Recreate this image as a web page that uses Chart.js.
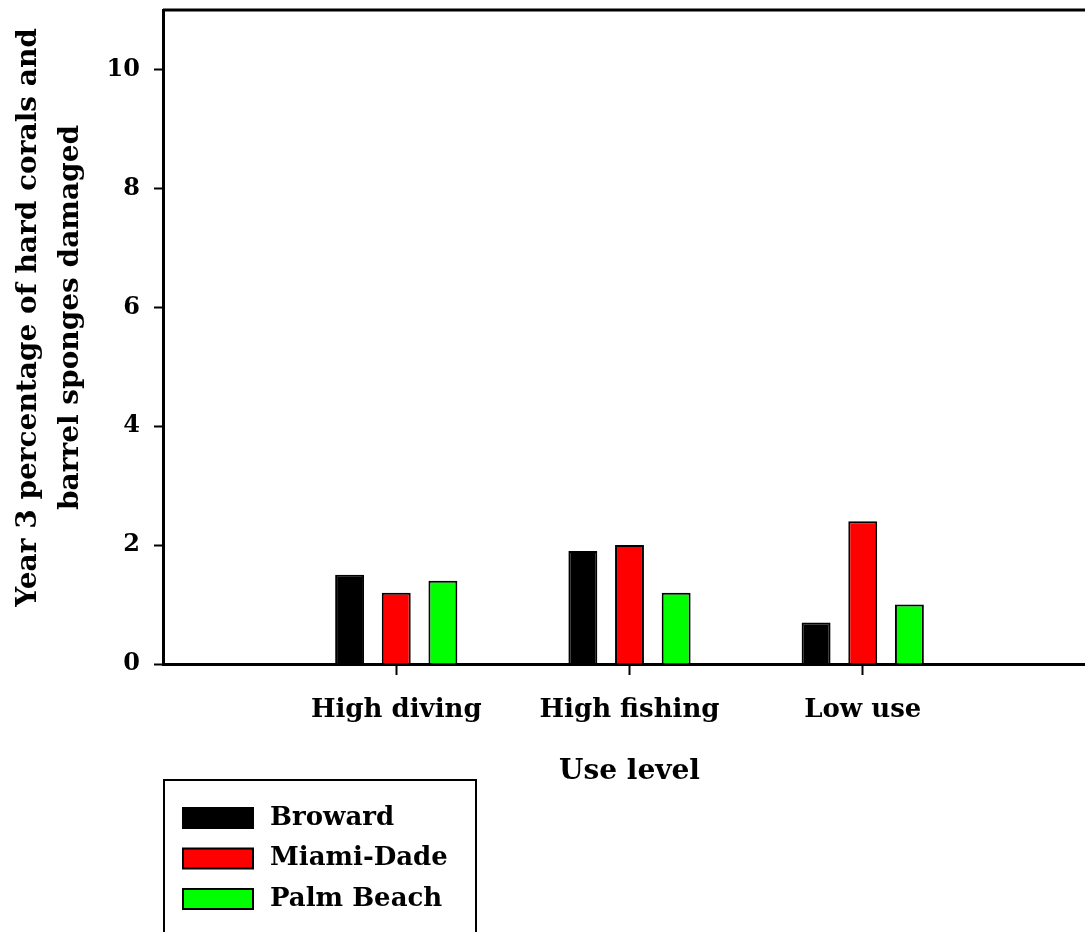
<!DOCTYPE html>
<html>
<head>
<meta charset="utf-8">
<script src="https://cdn.jsdelivr.net/npm/chart.js@4"></script>
<style>
  html, body { margin: 0; padding: 0; background: #fff; overflow: hidden; }
  canvas { display: block; }
</style>
</head>
<body>
<canvas id="chartBar" width="1100" height="932"></canvas>
<script>
const categories = ['High diving', 'High fishing', 'Low use'];
const broward = [1.5, 1.9, 0.7];
const miamiDade = [1.2, 2.0, 2.4];
const palmBeach = [1.4, 1.2, 1.0];
const yTicks = [0, 2, 4, 6, 8, 10];

// bars sit on a numeric x scale (1..3) so the empty space left/right matches
const toPoints = (values) => values.map((v, i) => ({x: i + 1, y: v}));

const makeSet = (label, values, color) => ({
    label: label,
    data: toPoints(values),
    backgroundColor: color,
    borderColor: '#000',
    borderWidth: 2,
    borderSkipped: 'bottom',
    categoryPercentage: 0.6,
    barPercentage: 0.62,
});

// legend in a framed box below the axis title, plus the top frame line
const boxLegend = {
    id: 'boxLegend',
    afterDraw(chart) {
        const ctx = chart.ctx;
        const area = chart.chartArea;
        ctx.save();
        ctx.strokeStyle = '#000';
        ctx.lineWidth = 3;
        ctx.beginPath();
        ctx.moveTo(area.left, area.top);
        ctx.lineTo(area.right, area.top);
        ctx.stroke();

        ctx.lineWidth = 2;
        ctx.strokeRect(164, 780, 312, 220);
        ctx.font = 'bold 26px "DejaVu Serif"';
        ctx.textBaseline = 'middle';
        chart.data.datasets.forEach((ds, i) => {
            const y = 808 + i * 40.5;
            ctx.fillStyle = ds.backgroundColor;
            ctx.fillRect(183, y, 70, 20);
            ctx.strokeRect(183, y, 70, 20);
            ctx.fillStyle = '#000';
            ctx.fillText(ds.label, 270, y + 10);
        });
        ctx.restore();
    }
};

Chart.defaults.font.family = '"DejaVu Serif", serif';
Chart.defaults.font.weight = 'bold';
Chart.defaults.color = '#000';

const configBarChart = {
    type: 'bar',
    data: {
        datasets: [
            makeSet('Broward', broward, '#000000'),
            makeSet('Miami-Dade', miamiDade, '#FF0000'),
            makeSet('Palm Beach', palmBeach, '#00FF00'),
        ]
    },
    options: {
        responsive: false,
        animation: false,
        layout: {
            padding: {top: 10, right: 4, bottom: 138, left: 0}
        },
        scales: {
            x: {
                type: 'linear',
                min: 0,
                max: 4,
                offset: false,
                afterBuildTicks: (axis) => {
                    axis.ticks = categories.map((c, i) => ({value: i + 1}));
                },
                afterFit: (axis) => {
                    axis.height = 130;
                    axis.paddingLeft = 0;
                    axis.paddingRight = 0;
                },
                ticks: {
                    font: {size: 26},
                    padding: 20,
                    maxRotation: 0,
                    callback: (value) => categories[value - 1] || ''
                },
                grid: {
                    offset: false,
                    drawOnChartArea: false,
                    tickLength: 11,
                    tickWidth: 2,
                    tickColor: '#000'
                },
                border: {color: '#000', width: 3},
                title: {
                    display: true,
                    text: 'Use level',
                    font: {size: 28},
                    padding: {top: 0, bottom: 5}
                }
            },
            y: {
                min: 0,
                max: 11,
                afterBuildTicks: (axis) => {
                    axis.ticks = yTicks.map((v) => ({value: v}));
                },
                afterFit: (axis) => {
                    axis.width = 163;
                    axis.paddingTop = 0;
                    axis.paddingBottom = 0;
                },
                ticks: {
                    font: {size: 24},
                    padding: 14
                },
                grid: {
                    drawOnChartArea: false,
                    tickLength: 9,
                    tickWidth: 2,
                    tickColor: '#000'
                },
                border: {color: '#000', width: 3},
                title: {
                    display: true,
                    // leading spaces nudge the centred title a little upward, as in the original
                    text: ['    Year 3 percentage of hard corals and', '    barrel sponges damaged'],
                    font: {size: 28, lineHeight: 1.5},
                    padding: {top: 8, bottom: 0}
                }
            }
        },
        plugins: {
            legend: {display: false},
            tooltip: {enabled: false}
        }
    },
    plugins: [boxLegend]
};

var chartBar = new Chart(
    document.getElementById('chartBar'),
    configBarChart
);
</script>
</body>
</html>
